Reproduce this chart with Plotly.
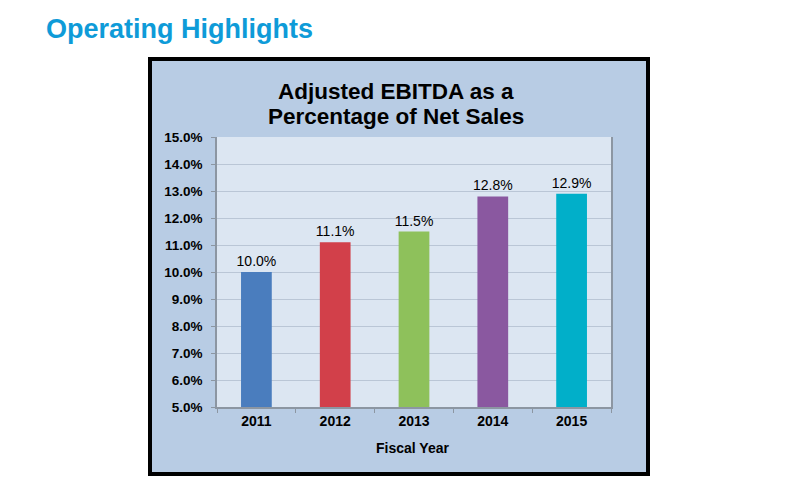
import plotly.graph_objects as go

years = ["2011", "2012", "2013", "2014", "2015"]
ebitda_pct = [10.0, 11.1, 11.5, 12.8, 12.9]
bar_colors = ["#4A7DBE", "#D2404A", "#8EC15B", "#8A58A0", "#01AFC9"]
y_ticks = [5, 6, 7, 8, 9, 10, 11, 12, 13, 14, 15]

FONT = "Liberation Sans, Arial, sans-serif"

fig = go.Figure()
fig.add_trace(go.Bar(
    x=years, y=ebitda_pct,
    marker=dict(color=bar_colors, line=dict(width=0)),
    width=0.39,
    text=[f"{v:.1f}%" for v in ebitda_pct],
    textposition="outside",
    constraintext="none",
    textfont=dict(family=FONT, size=14, color="#000000"),
    cliponaxis=False,
    hoverinfo="skip",
))

fig.update_layout(
    width=786, height=489,
    margin=dict(l=217, r=175, t=137, b=82),
    paper_bgcolor="#FFFFFF",
    plot_bgcolor="#DCE6F2",
    showlegend=False,
    font=dict(family=FONT, color="#000000"),
    xaxis=dict(
        type="category",
        showline=True, linecolor="#8C96A2", linewidth=1.5,
        ticks="outside", tickson="boundaries", ticklen=4, tickcolor="#8C96A2",
        tickfont=dict(family=FONT, size=14, color="#000000", weight="bold"),
        showgrid=False,
    ),
    yaxis=dict(
        range=[5, 15], tickvals=y_ticks,
        ticktext=[f"{v:.1f}%" for v in y_ticks],
        showline=True, mirror=True, linecolor="#8C96A2", linewidth=1.5,
        ticks="outside", ticklen=4, tickcolor="#8C96A2",
        showgrid=True, gridcolor="#BAC6D6", gridwidth=1,
        tickfont=dict(family=FONT, size=13.5, color="#000000", weight="bold"),
        ticklabelstandoff=6,
        zeroline=False,
    ),
    shapes=[
        dict(type="rect", xref="paper", yref="paper",
             x0=(150 - 217) / 394, x1=(648 - 217) / 394,
             y0=(407 - 474) / 270, y1=(407 - 59) / 270,
             fillcolor="#B8CCE4", line=dict(color="#000000", width=4), layer="below"),
        dict(type="rect", xref="paper", yref="paper", x0=0, x1=1, y0=0, y1=1,
             fillcolor="#DCE6F2", line=dict(width=0), layer="below"),
    ],
    annotations=[
        dict(text="<b>Operating Highlights</b>", xref="paper", yref="paper",
             x=(44 - 217) / 394, y=(407 - 29) / 270, xanchor="left", yanchor="middle",
             showarrow=False, font=dict(family=FONT, size=27, color="#0E9BD8")),
        dict(text="<b>Adjusted EBITDA as a</b>", xref="paper", yref="paper",
             x=(396 - 217) / 394, y=(407 - 92) / 270, xanchor="center", yanchor="middle",
             showarrow=False, font=dict(family=FONT, size=22.5, color="#000000")),
        dict(text="<b>Percentage of Net Sales</b>", xref="paper", yref="paper",
             x=(396 - 217) / 394, y=(407 - 116) / 270, xanchor="center", yanchor="middle",
             showarrow=False, font=dict(family=FONT, size=22.5, color="#000000")),
        dict(text="<b>Fiscal Year</b>", xref="paper", yref="paper",
             x=(412 - 217) / 394, y=(407 - 448) / 270, xanchor="center", yanchor="middle",
             showarrow=False, font=dict(family=FONT, size=14, color="#000000")),
    ],
)

fig.write_html("out.html")
